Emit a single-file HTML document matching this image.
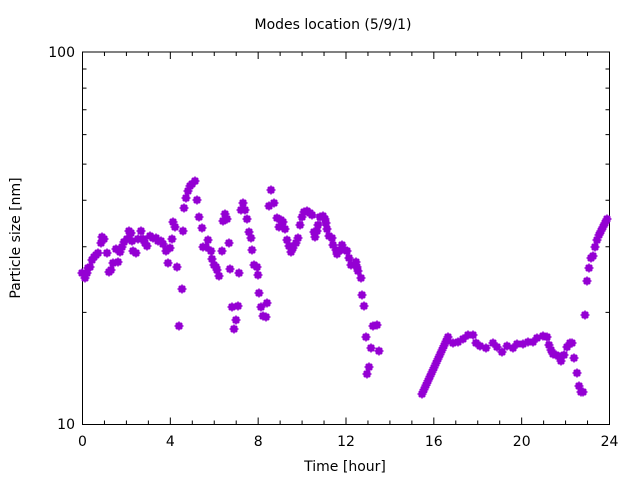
<!DOCTYPE html>
<html><head><meta charset="utf-8"><style>
body{margin:0;background:#fff}
svg{display:block;font-family:"DejaVu Sans","Liberation Sans",sans-serif}
</style></head><body>
<svg id="s" width="640" height="480" viewBox="0 0 640 480" xmlns="http://www.w3.org/2000/svg">
<rect width="640" height="480" fill="#fff"/>
<g id="ax" stroke="#000" stroke-width="1" fill="none"></g>
<rect x="82.5" y="52" width="527" height="372.5" fill="none" stroke="#000" stroke-width="1"/>
<g font-size="14" fill="#000">
<text x="333" y="29" text-anchor="middle">Modes location (5/9/1)</text>
<text x="75" y="57" text-anchor="end">100</text>
<text x="75" y="429" text-anchor="end">10</text>
<text x="82.5" y="446" text-anchor="middle">0</text>
<text x="170.3" y="446" text-anchor="middle">4</text>
<text x="258.2" y="446" text-anchor="middle">8</text>
<text x="346" y="446" text-anchor="middle">12</text>
<text x="433.8" y="446" text-anchor="middle">16</text>
<text x="521.7" y="446" text-anchor="middle">20</text>
<text x="609.5" y="446" text-anchor="middle">24</text>
<text x="345" y="471" text-anchor="middle">Time [hour]</text>
<text transform="translate(20,238) rotate(-90)" text-anchor="middle">Particle size [nm]</text>
</g>
<g id="pts" fill="#9400d3"></g>
</svg>
<script>
var ax=document.getElementById('ax'),NS='http://www.w3.org/2000/svg',d='';
for(var h=1;h<24;h++){var x=82.5+h*21.958,L=(h%4==0)?7:4;d+='M'+x+' 424.5v-'+L+'M'+x+' 52v'+L;}
for(var v=20;v<=90;v+=10){var y=424.5-372.5*Math.log10(v/10);d+='M82.5 '+y+'h4M609.5 '+y+'h-4';}
d+='M82.5 52h7M609.5 52h-7M82.5 424.5h7M609.5 424.5h-7';
var p=document.createElementNS(NS,'path');p.setAttribute('d',d);ax.appendChild(p);
var P=[[82,273],[85,278],[87,273],[88,268],[90,267],[92,260],[94,257],[96,255],[98,253],[101,243],[102,237],[104,239],[107,253],[109,272],[111,270],[113,263],[116,249],[118,262],[120,252],[122,247],[124,242],[127,239],[129,231],[131,233],[132,241],[133,251],[136,253],[138,239],[141,231],[143,239],[145,243],[147,246],[150,236],[153,238],[156,238],[158,241],[161,241],[163,244],[166,251],[168,263],[170,248],[172,239],[173,222],[175,227],[177,267],[179,326],[182,289],[183,231],[184,208],[186,198],[188,191],[190,186],[192,184],[195,181],[197,200],[199,217],[202,228],[203,247],[206,247],[208,240],[211,251],[212,259],[214,265],[216,267],[217,270],[219,276],[222,251],[223,221],[225,214],[227,219],[229,243],[230,269],[232,307],[234,329],[236,320],[238,306],[239,273],[241,210],[243,203],[245,210],[247,219],[249,232],[251,238],[252,250],[254,265],[257,267],[258,275],[259,293],[261,307],[263,316],[266,317],[267,303],[269,206],[271,190],[274,203],[277,218],[279,227],[281,220],[283,222],[285,229],[287,240],[289,246],[291,252],[293,248],[296,243],[298,238],[300,225],[302,217],[304,212],[307,211],[310,213],[312,215],[314,232],[315,237],[317,231],[318,225],[320,217],[323,216],[325,219],[326,223],[327,229],[329,236],[332,238],[333,245],[336,250],[337,254],[339,251],[342,245],[345,250],[347,251],[349,258],[351,265],[354,265],[356,262],[357,267],[358,271],[361,278],[362,295],[364,306],[366,337],[367,374],[369,367],[371,348],[373,326],[377,325],[379,351],
[453,343],[458,342],[463,339],[468,335],[473,335],[476,343],[480,346],[486,348],[493,343],[497,347],[502,352],[507,346],[513,348],[517,344],[523,344],[528,342],[533,342],[537,338],[543,336],[547,337],[549,345],[551,350],[553,354],[556,355],[560,357],[561,361],[564,355],[567,347],[570,343],[572,343],[574,358],[577,373],[579,386],[581,392],[583,392],[585,315],[587,281],[589,268],[591,258],[593,256],[595,247],[597,240],[599,235],[601,231],[603,227],[605,223],[607,219]];
for(var i=0;i<=13;i++){P.push([422+i*2,394-i*57/13]);}
var g=document.getElementById('pts');
function R(x,y,w,h,r){var e=document.createElementNS(NS,'rect');e.setAttribute('x',x);e.setAttribute('y',y);e.setAttribute('width',w);e.setAttribute('height',h);if(r)e.setAttribute('rx',r);g.appendChild(e);}
P.forEach(function(q){var x=q[0],y=q[1];R(x-3.5,y-3.5,7,7,1.5);R(x-4.5,y-0.75,9,1.5);R(x-0.75,y-4.5,1.5,9);});
</script>
</body></html>
